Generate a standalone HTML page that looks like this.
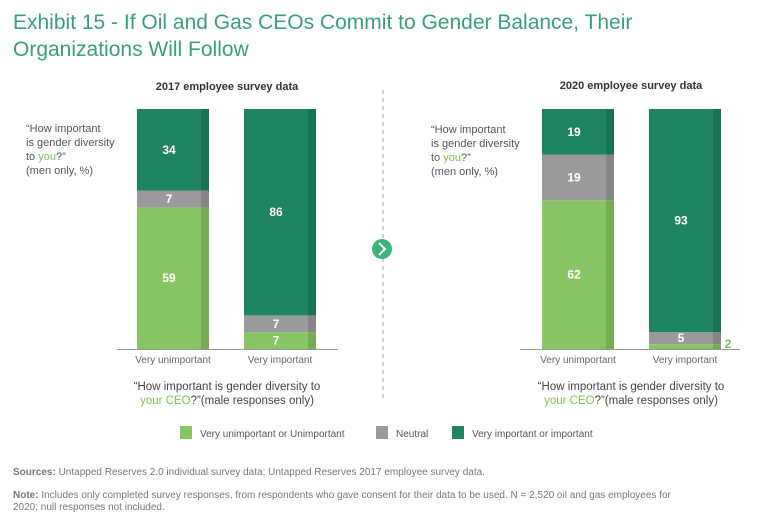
<!DOCTYPE html>
<html><head><meta charset="utf-8"><style>
body{margin:0;background:#fff;width:768px;height:523px;overflow:hidden;font-family:"Liberation Sans",sans-serif}
</style></head><body>
<svg width="768" height="523" viewBox="0 0 768 523" xmlns="http://www.w3.org/2000/svg">
<g font-family="Liberation Sans, sans-serif">
<text x="13" y="29" font-size="21" fill="#3a9f78">Exhibit 15 - If Oil and Gas CEOs Commit to Gender Balance, Their</text>
<text x="13" y="56" font-size="21" fill="#3a9f78">Organizations Will Follow</text>
<text x="227" y="90" font-size="11" font-weight="bold" fill="#333" text-anchor="middle">2017 employee survey data</text>
<text x="631" y="89" font-size="11" font-weight="bold" fill="#333" text-anchor="middle">2020 employee survey data</text>
<g font-size="11" fill="#555">
<text x="26" y="132">“How important</text><text x="26" y="146">is gender diversity</text><text x="26" y="160">to <tspan fill="#7cc153">you</tspan>?”</text><text x="26" y="174">(men only, %)</text></g>
<g font-size="11" fill="#555">
<text x="431" y="133">“How important</text><text x="431" y="147">is gender diversity</text><text x="431" y="161">to <tspan fill="#7cc153">you</tspan>?”</text><text x="431" y="175">(men only, %)</text></g>
<line x1="383" y1="90" x2="383" y2="400" stroke="#aaa" stroke-dasharray="4,4"/>
<circle cx="382" cy="249" r="10" fill="#3cb37a"/>
<path d="M379 243 L385 249 L379 255" stroke="#fff" stroke-width="2" fill="none"/>
<g font-size="11.5" fill="#444" text-anchor="middle">
<text x="227" y="390">“How important is gender diversity to</text><text x="227" y="404"><tspan fill="#7cc153">your CEO</tspan>?”(male responses only)</text></g>
<g font-size="11.5" fill="#444" text-anchor="middle">
<text x="631" y="390">“How important is gender diversity to</text><text x="631" y="404"><tspan fill="#7cc153">your CEO</tspan>?”(male responses only)</text></g>
<g font-size="10" fill="#555">
<rect x="180" y="426" width="12" height="13" fill="#88c564"/><text x="200" y="437">Very unimportant or Unimportant</text>
<rect x="376" y="426" width="12" height="13" fill="#9a9a9a"/><text x="396" y="437">Neutral</text>
<rect x="452" y="426" width="12" height="13" fill="#1e8461"/><text x="472" y="437">Very important or important</text></g>
<text x="13" y="475" font-size="10" fill="#777"><tspan font-weight="bold">Sources:</tspan> Untapped Reserves 2.0 individual survey data; Untapped Reserves 2017 employee survey data.</text>
<text x="13" y="498" font-size="10" fill="#777"><tspan font-weight="bold">Note:</tspan> Includes only completed survey responses, from respondents who gave consent for their data to be used. N = 2,520 oil and gas employees for</text>
<text x="13" y="510" font-size="10" fill="#777">2020; null responses not included.</text>
<g id="bars"></g>
</g></svg>
<script>
const categories=["Very unimportant","Very important"];
const unimp2017=[59,7];
const neutral2017=[7,7];
const imp2017=[34,86];
const unimp2020=[62,2];
const neutral2020=[19,5];
const imp2020=[19,93];
const colors=["#88c564","#9a9a9a","#1e8461"];
const NS="http://www.w3.org/2000/svg";
const g=document.getElementById('bars');
const yTop=109,yBottom=349;
function y(v){return yBottom-(v/100)*(yBottom-yTop);}
function mk(t,a){const e=document.createElementNS(NS,t);for(const k in a)e.setAttribute(k,a[k]);g.appendChild(e);return e;}
function panel(xs,axis,series,name){
  categories.forEach((c,i)=>{
    let cum=0;const x=xs[i],w=72;
    series.forEach((s,j)=>{
      const v=s[i];const y0=y(cum),y1=y(cum+v);
      const r=mk('rect',{x:x,y:y1,width:w,height:y0-y1,fill:colors[j]});
      
      
      const sh=mk('rect',{x:x+w-8,y:y1,width:8,height:y0-y1,fill:'rgba(0,0,0,0.13)'});
      
      
      const outside=(y0-y1)<8;
      const t=mk('text',{x:outside?x+w+7:x+w/2-4,y:outside?yBottom-1:(y0+y1)/2+4,'font-size':12,'font-weight':'bold',fill:outside?'#7cc153':'#fff','text-anchor':'middle'});
      t.textContent=v;
      
      
      cum+=v;
    });
    const l=mk('text',{x:x+w/2,y:yBottom+14,'font-size':10,fill:'#666','text-anchor':'middle'});
    l.textContent=c;
    
    
  });
  const ax=mk('line',{x1:axis[0],y1:yBottom+0.5,x2:axis[1],y2:yBottom+0.5,stroke:'#999'});
  
  
}
panel([137,244],[117,338],[unimp2017,neutral2017,imp2017],'panel-2017');
panel([542,649],[520,740],[unimp2020,neutral2020,imp2020],'panel-2020');
</script>
</body></html>
